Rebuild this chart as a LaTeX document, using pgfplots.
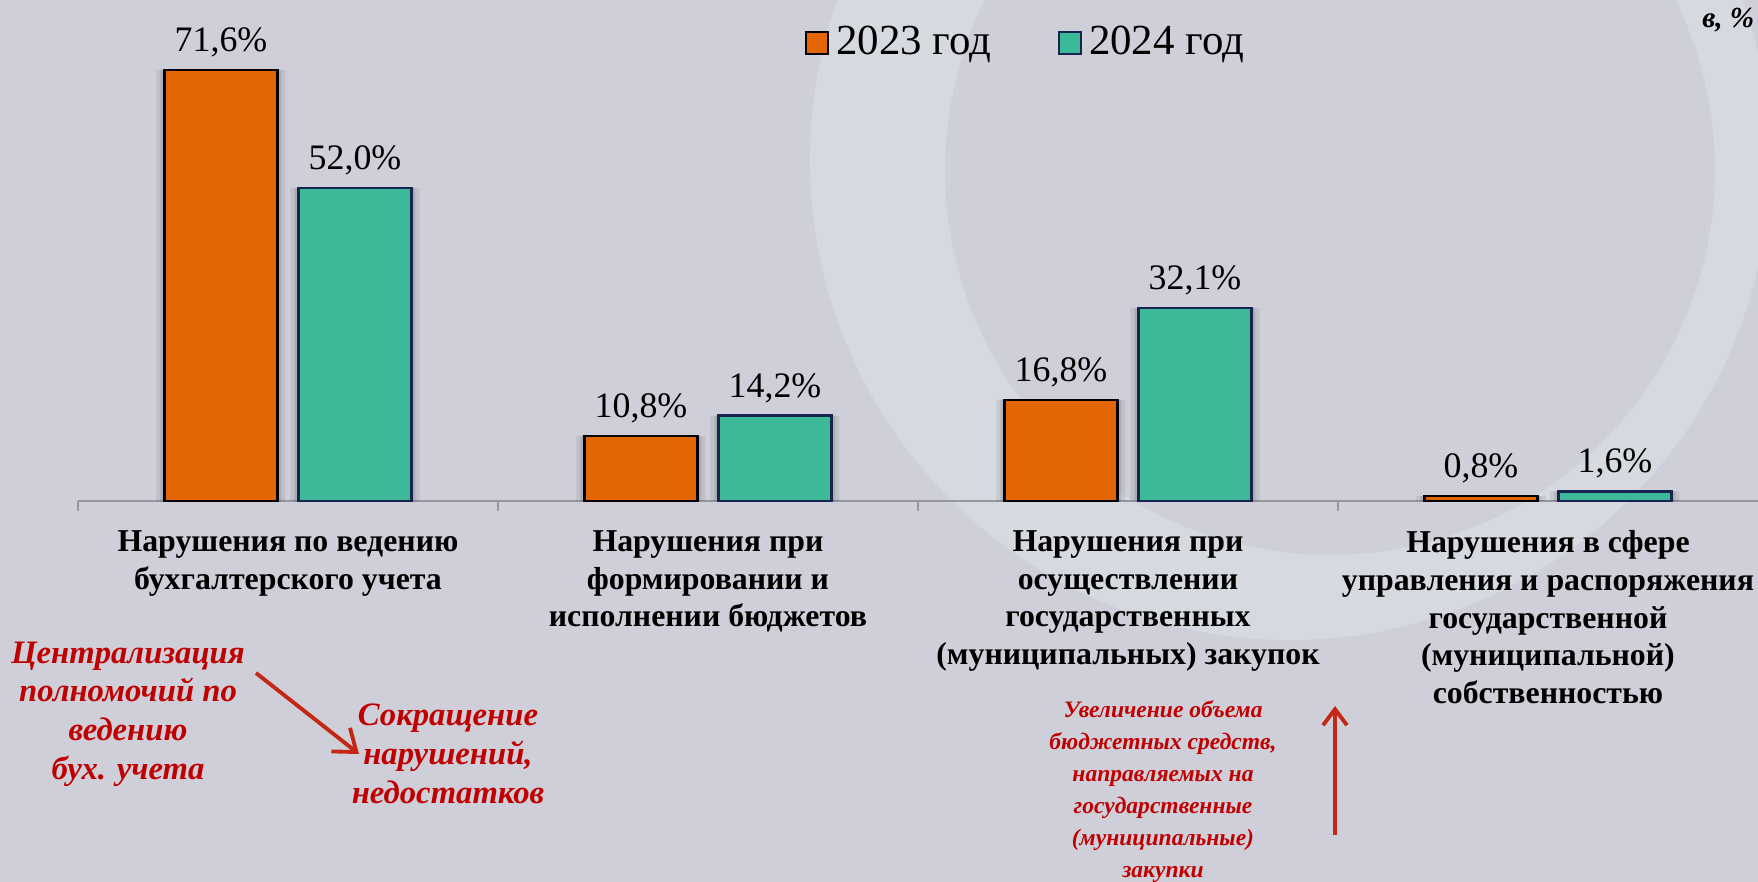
\documentclass[border=0pt]{standalone}
\usepackage{fontspec}
\setmainfont{Liberation Serif}
\usepackage{pgfplots}
\pgfplotsset{compat=1.18}
\usetikzlibrary{arrows.meta}

\definecolor{bg}{RGB}{207,207,217}
\definecolor{ring}{RGB}{215,217,225}
\definecolor{orb}{RGB}{228,101,4}
\definecolor{teb}{RGB}{60,185,153}
\definecolor{navy}{RGB}{25,35,80}
\definecolor{redtxt}{RGB}{192,0,0}
\definecolor{arr}{RGB}{196,40,20}
\definecolor{axg}{RGB}{150,150,158}

\begin{document}
\begin{tikzpicture}[x=0.1mm,y=0.1mm]
\fill[bg] (0,0) rectangle (1758,882);
\fill[ring, even odd rule] (1290,722) circle[radius=480] (1330,712) circle[radius=385];
\begin{axis}[
  at={(7.8mm,38.1mm)}, anchor=south west,
  scale only axis, width=168mm, height=48.16mm,
  xmin=-0.5, xmax=3.5, ymin=0, ymax=80,
  /pgf/number format/assume math mode=true,
  axis x line=bottom, axis y line=none,
  x axis line style={-, draw=axg, line width=0.6pt},
  xtick={0,1,2,3}, major tick length=0pt,
  minor xtick={-0.5,0.5,1.5,2.5}, minor tick length=1mm, tick align=outside,
  minor tick style={draw=axg, line width=0.5pt},
  xticklabels={{Нарушения по ведению\\бухгалтерского учета},
               {Нарушения при\\формировании и\\исполнении бюджетов},
               {Нарушения при\\осуществлении\\государственных\\(муниципальных) закупок},
               {Нарушения в сфере\\управления и распоряжения\\государственной\\(муниципальной)\\собственностью}},
  xticklabel style={align=center, font=\bfseries\fontsize{9.05}{10.7}\selectfont, yshift=-1.75mm},
  ytick=\empty,
  clip=false,
  legend style={at={(0.5655,0.951)}, anchor=center, draw=none, fill=none,
    legend columns=2, font=\fontsize{12.2}{14}\selectfont,
    /tikz/every even column/.append style={column sep=5.9mm}},
  legend cell align=left,
  legend image code/.code={\draw[#1] (0mm,-1.1mm) rectangle (2.2mm,1.1mm);},
  every node near coord/.append style={font=\fontsize{10.2}{12}\selectfont, text=black},
]
% shadows
\addplot[ybar, bar width=12.9mm, bar shift=-6.7mm, fill=black, draw=none, opacity=0.07, forget plot]
  coordinates {(0,71.6) (1,10.8) (2,16.8) (3,0.8)};
\addplot[ybar, bar width=12.9mm, bar shift=6.7mm, fill=black, draw=none, opacity=0.07, forget plot]
  coordinates {(0,52.0) (1,14.2) (2,32.1) (3,1.6)};
\addplot[ybar, bar width=12.1mm, bar shift=-6.7mm, fill=black, draw=none, opacity=0.10, forget plot]
  coordinates {(0,71.6) (1,10.8) (2,16.8) (3,0.8)};
\addplot[ybar, bar width=12.1mm, bar shift=6.7mm, fill=black, draw=none, opacity=0.10, forget plot]
  coordinates {(0,52.0) (1,14.2) (2,32.1) (3,1.6)};
% bars
\addplot[ybar, bar width=11.3mm, bar shift=-6.7mm, fill=orb, draw=black, line width=0.7pt,
  every node near coord/.append style={xshift=-6.7mm},
  nodes near coords={\pgfmathprintnumber[fixed, fixed zerofill, precision=1, use comma, assume math mode=true]{\pgfplotspointmeta}\%}]
  coordinates {(0,71.6) (1,10.8) (2,16.8) (3,0.8)};
\addlegendentry{2023 год}
\addplot[ybar, bar width=11.3mm, bar shift=6.7mm, fill=teb, draw=navy, line width=0.7pt,
  every node near coord/.append style={xshift=6.7mm},
  nodes near coords={\pgfmathprintnumber[fixed, fixed zerofill, precision=1, use comma, assume math mode=true]{\pgfplotspointmeta}\%}]
  coordinates {(0,52.0) (1,14.2) (2,32.1) (3,1.6)};
\addlegendentry{2024 год}
\end{axis}
\node[anchor=east, inner sep=0pt, font=\bfseries\itshape\fontsize{8.3}{10}\selectfont] at (1755,862) {в, \%};
\node[align=center, text=redtxt, font=\bfseries\itshape\fontsize{9.3}{11}\selectfont] at (128,168)
  {Централизация\\полномочий по\\ведению\\бух. учета};
\node[align=center, text=redtxt, font=\bfseries\itshape\fontsize{9.3}{11}\selectfont] at (448,128)
  {Сокращение\\нарушений,\\недостатков};
\draw[arr, line width=1.1pt, -{Straight Barb[length=2mm, width=3mm]}] (256,209) -- (359,128);
\node[align=center, text=redtxt, font=\bfseries\itshape\fontsize{6.7}{9.1}\selectfont] at (1163,90)
  {Увеличение объема\\бюджетных средств,\\направляемых на\\государственные\\(муниципальные)\\закупки};
\draw[arr, line width=1.1pt, -{Straight Barb[length=1.6mm, width=2.4mm]}] (1335,47) -- (1335,176);
\pgfresetboundingbox
\path[use as bounding box] (0,0) rectangle (1758,882);
\end{tikzpicture}
\end{document}
